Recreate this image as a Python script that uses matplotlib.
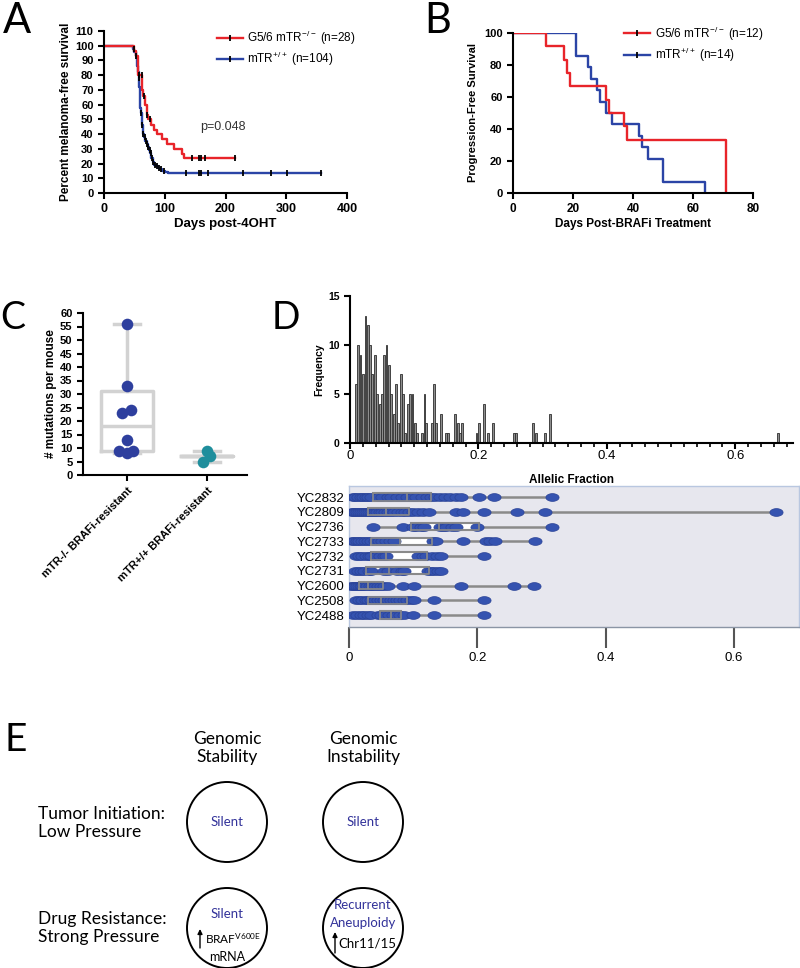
import numpy as np
import matplotlib.pyplot as plt
from matplotlib.path import Path
from matplotlib.patches import Circle
from matplotlib.lines import Line2D
from matplotlib.ticker import MultipleLocator

plt.rcParams['font.family'] = ['Liberation Sans', 'DejaVu Sans']
plt.rcParams['mathtext.default'] = 'regular'

RED = '#e8242a'
BLUE = '#2b44a6'

# ---- A: melanoma-free survival after 4OHT (Kaplan-Meier steps)
a_ko_t = [0, 50, 53, 56, 63, 65, 67, 70, 73, 77, 82, 88, 96, 104, 115, 128, 131]
a_ko_s = [100, 96.4, 93, 80, 70, 66, 60, 53, 50, 46.5, 43, 40, 36.5, 33, 30, 26.5, 23.5]
a_ko_end = 215
a_ko_cens = [58, 62, 66, 71, 75, 145, 157, 160, 167, 215]
a_wt_t = [0, 47, 50, 52, 54, 55, 56, 57, 58, 59, 60, 61, 62, 63, 64, 65, 66, 68, 70,
          72, 74, 76, 78, 80, 83, 86, 89, 92, 96, 100, 106]
a_wt_s = [100, 98, 96, 93, 90, 86, 82, 78, 72, 64, 58, 54, 50, 46, 43, 40, 38, 35, 33,
          31, 29, 27, 24, 21, 19, 18, 17, 16, 15, 14.4, 13.5]
a_wt_end = 357
a_wt_cens = [49, 53, 57, 61, 63, 65, 67, 69, 71, 73, 75, 77, 79, 81, 84, 87, 90, 94, 98,
             135, 157, 160, 172, 228, 275, 302, 357]

# ---- B: progression-free survival after BRAFi
b_ko_t = [0, 11, 17, 18, 19, 31, 32, 37, 38, 71]
b_ko_s = [100, 91.7, 83.3, 75, 66.7, 58.3, 50, 41.7, 33.3, 0]
b_wt_t = [0, 21, 25, 26, 28, 29, 31, 33, 42, 43, 45, 50, 64]
b_wt_s = [100, 85.7, 78.6, 71.4, 64.3, 57.1, 50, 42.9, 35.7, 28.6, 21.4, 7.1, 0]

# ---- C: mutations per mouse
c_groups = ['mTR-/- BRAFi-resistant', 'mTR+/+ BRAFi-resistant']
c_ko_vals = [56, 33, 24, 23, 13, 9, 9, 8]
c_wt_vals = [9, 7, 5]
c_q1 = [9, 7]
c_med = [18, 7]
c_q3 = [31, 7]
c_lo = [8, 5]
c_hi = [56, 9]

# ---- D: allelic fraction histogram
hist_af = [0.0092, 0.0128, 0.0164, 0.0200, 0.0241, 0.0277, 0.0313, 0.0349, 0.0390, 0.0421,
           0.0462, 0.0497, 0.0533, 0.0569, 0.0605, 0.0641, 0.0682, 0.0718, 0.0754, 0.0790,
           0.0826, 0.0862, 0.0903, 0.0938, 0.0974, 0.101, 0.105, 0.112, 0.116, 0.119,
           0.127, 0.131, 0.134, 0.142, 0.149, 0.153, 0.164, 0.168, 0.171, 0.175,
           0.197, 0.201, 0.208, 0.215, 0.223, 0.255, 0.259, 0.285, 0.289, 0.304, 0.311, 0.667]
hist_freq = [6, 10, 9, 7, 13, 12, 10, 7, 9, 5,
             4, 5, 9, 10, 8, 5, 3, 6, 2, 7,
             5, 1, 4, 5, 5, 2, 1, 1, 5, 2,
             2, 6, 2, 3, 1, 1, 3, 2, 1, 2,
             1, 2, 4, 1, 2, 1, 1, 2, 1, 1, 3, 1]

# ---- D: per-sample allelic fractions
samples = ['YC2832', 'YC2809', 'YC2736', 'YC2733', 'YC2732', 'YC2731', 'YC2600', 'YC2508', 'YC2488']
sample_af = [
    [0.006, 0.010, 0.014, 0.018, 0.022, 0.026, 0.030, 0.034, 0.045, 0.052, 0.060, 0.066, 0.075,
     0.082, 0.090, 0.098, 0.104, 0.114, 0.122, 0.128, 0.134, 0.142, 0.150, 0.158, 0.166, 0.175,
     0.203, 0.226, 0.316],
    [0.004, 0.007, 0.010, 0.013, 0.016, 0.019, 0.022, 0.025, 0.028, 0.031, 0.034, 0.037, 0.040,
     0.044, 0.048, 0.052, 0.056, 0.060, 0.065, 0.070, 0.076, 0.082, 0.088, 0.094, 0.100, 0.108,
     0.116, 0.124, 0.166, 0.178, 0.210, 0.262, 0.305, 0.665],
    [0.037, 0.084, 0.099, 0.105, 0.112, 0.117, 0.141, 0.146, 0.151, 0.161, 0.166, 0.200, 0.316],
    [0.004, 0.008, 0.012, 0.016, 0.020, 0.025, 0.030, 0.035, 0.040, 0.046, 0.052, 0.058, 0.064,
     0.070, 0.131, 0.136, 0.177, 0.213, 0.220, 0.228, 0.290],
    [0.011, 0.016, 0.021, 0.026, 0.031, 0.035, 0.042, 0.048, 0.054, 0.058, 0.108, 0.115, 0.120,
     0.130, 0.137, 0.144, 0.210],
    [0.009, 0.014, 0.019, 0.024, 0.031, 0.035, 0.054, 0.060, 0.075, 0.082, 0.086, 0.123, 0.128,
     0.133, 0.138, 0.143],
    [0.003, 0.006, 0.009, 0.012, 0.015, 0.018, 0.021, 0.024, 0.028, 0.032, 0.036, 0.040, 0.045,
     0.050, 0.055, 0.060, 0.084, 0.102, 0.174, 0.257, 0.288],
    [0.011, 0.016, 0.021, 0.026, 0.030, 0.035, 0.040, 0.045, 0.050, 0.055, 0.060, 0.065, 0.070,
     0.075, 0.080, 0.085, 0.090, 0.096, 0.102, 0.133, 0.210],
    [0.006, 0.012, 0.018, 0.024, 0.030, 0.035, 0.045, 0.050, 0.056, 0.062, 0.068, 0.074, 0.080,
     0.086, 0.099, 0.133, 0.210],
]
sample_q1 = [0.037, 0.029, 0.097, 0.035, 0.035, 0.027, 0.016, 0.030, 0.048]
sample_med = [0.090, 0.058, 0.140, 0.080, 0.058, 0.063, 0.030, 0.050, 0.065]
sample_q3 = [0.127, 0.094, 0.202, 0.130, 0.122, 0.125, 0.053, 0.091, 0.081]


def km(ax, t, s, end, color, cens=None):
    ax.step(list(t) + [end], list(s) + [s[-1]], where='post', color=color, lw=1.7)
    if cens:
        idx = np.searchsorted(t, cens, side='right') - 1
        ax.plot(cens, np.array(s)[idx], ls='none', marker='|', ms=4, mew=1.3, color='k', zorder=4)


def prism_axes(ax):
    for sp in ['top', 'right']:
        ax.spines[sp].set_visible(False)
    for sp in ['left', 'bottom']:
        ax.spines[sp].set_linewidth(1.5)
    ax.tick_params(direction='out', length=4, width=1.5)


def bold_ticks(ax, size_x, size_y):
    plt.setp(ax.get_xticklabels(), fontweight='bold', fontsize=size_x)
    plt.setp(ax.get_yticklabels(), fontweight='bold', fontsize=size_y)


fig = plt.figure(figsize=(8, 9.68), dpi=100)
W, H = 800., 968.


def box(l, t, r, b):
    return [l / W, 1 - b / H, (r - l) / W, (b - t) / H]


def km_handles():
    return [Line2D([], [], color=c, lw=1.7, marker='|', ms=4, mew=1.3, mec='k') for c in (RED, BLUE)]


# ---------------- A
ax = fig.add_axes(box(104, 31, 347, 193))
prism_axes(ax)
km(ax, a_wt_t, a_wt_s, a_wt_end, BLUE, a_wt_cens)
km(ax, a_ko_t, a_ko_s, a_ko_end, RED, a_ko_cens)
ax.set_xlim(0, 400)
ax.set_ylim(0, 110)
ax.set_xticks(range(0, 401, 100))
ax.set_yticks(range(0, 111, 10))
bold_ticks(ax, 9, 8)
ax.set_xlabel('Days post-4OHT', fontweight='bold', fontsize=9.5, labelpad=2)
ax.set_ylabel('Percent melanoma-free survival', fontweight='bold', fontsize=8.5, labelpad=2)
ax.text(159, 45, 'p=0.048', fontsize=9, color='#333333', va='center')
ax.legend(km_handles(), ['G5/6 mTR$^{-/-}$ (n=28)', 'mTR$^{+/+}$ (n=104)'],
          loc='upper left', bbox_to_anchor=(0.42, 1.08), frameon=False, fontsize=8.5,
          numpoints=1, handlelength=2.2, handletextpad=0.4, labelspacing=0.25)

# ---------------- B
ax = fig.add_axes(box(513, 33, 753, 193))
prism_axes(ax)
km(ax, b_wt_t, b_wt_s, b_wt_t[-1], BLUE)
km(ax, b_ko_t, b_ko_s, b_ko_t[-1], RED)
ax.set_xlim(0, 80)
ax.set_ylim(0, 100)
ax.set_xticks(range(0, 81, 20))
ax.set_yticks(range(0, 101, 20))
bold_ticks(ax, 8.5, 8)
ax.set_xlabel('Days Post-BRAFi Treatment', fontweight='bold', fontsize=8.5, labelpad=2)
ax.set_ylabel('Progression-Free Survival', fontweight='bold', fontsize=8, labelpad=4)
ax.legend(km_handles(), ['G5/6 mTR$^{-/-}$ (n=12)', 'mTR$^{+/+}$ (n=14)'],
          loc='upper left', bbox_to_anchor=(0.42, 1.12), frameon=False, fontsize=8.5,
          numpoints=1, handlelength=2.2, handletextpad=0.4, labelspacing=0.25)

# ---------------- C
ax = fig.add_axes(box(83, 313, 247, 475))
prism_axes(ax)
stats = [dict(med=c_med[i], q1=c_q1[i], q3=c_q3[i], whislo=c_lo[i], whishi=c_hi[i], fliers=[])
         for i in range(2)]
gp = dict(color='#d2d2d2', lw=2.5)
ax.bxp(stats, positions=[0, 1], widths=0.65, capwidths=0.33, showfliers=False,
       boxprops=gp, whiskerprops=gp, capprops=gp, medianprops=gp)
swarm_dx = [[0, 0, 0.05, -0.06, 0, -0.1, 0.08, 0], [0, 0.04, -0.05]]
ax.scatter(np.array(swarm_dx[0]), c_ko_vals, s=70, color='#2e3f9e', zorder=3, lw=0)
ax.scatter(1 + np.array(swarm_dx[1]), c_wt_vals, s=70, color='#1f8e9c', zorder=3, lw=0)
ax.set_xlim(-0.55, 1.5)
ax.set_ylim(0, 60)
ax.set_yticks(range(0, 61, 5))
ax.set_xticks([0, 1])
ax.set_xticklabels(c_groups, rotation=45, ha='right', rotation_mode='anchor')
bold_ticks(ax, 8, 8)
ax.set_ylabel('# mutations per mouse', fontweight='bold', fontsize=8.5, labelpad=2)

# ---------------- D histogram
ax = fig.add_axes(box(350, 296, 793, 443))
prism_axes(ax)
ax.bar(hist_af, hist_freq, width=0.003, color='#8e8e8e', edgecolor='#2e2e2e', linewidth=0.6)
ax.set_xlim(0, 0.69)
ax.set_ylim(0, 15)
ax.set_yticks([0, 5, 10, 15])
ax.set_xticks([0, 0.2, 0.4, 0.6])
ax.set_xticklabels(['0', '0.2', '0.4', '0.6'], fontsize=9.5)
ax.xaxis.set_minor_locator(MultipleLocator(0.02))
ax.tick_params(axis='x', which='minor', length=3, width=1.2)
ax.tick_params(axis='x', pad=1)
plt.setp(ax.get_yticklabels(), fontweight='bold', fontsize=7.5)
ax.set_ylabel('Frequency', fontweight='bold', fontsize=7.5, labelpad=3)
ax.set_xlabel('Allelic Fraction', fontweight='bold', fontsize=8.5, labelpad=9)

# ---------------- D per-sample boxes
ax = fig.add_axes(box(349, 486, 799, 627))
ax.set_facecolor('#e7e7ee')
for sp in ax.spines.values():
    sp.set_color('#b9c7e0')
    sp.set_linewidth(1)
ax.spines['bottom'].set_color('#8b95a5')
ys = np.arange(len(samples))[::-1]
stats = [dict(med=sample_med[i], q1=sample_q1[i], q3=sample_q3[i],
              whislo=min(sample_af[i]), whishi=max(sample_af[i]), fliers=[])
         for i in range(len(samples))]
ax.bxp(stats, positions=ys, widths=0.5, orientation='horizontal', patch_artist=True,
       showcaps=False, showfliers=False,
       boxprops=dict(facecolor='white', edgecolor='#8a8a8a', lw=1.5),
       whiskerprops=dict(color='#8a8a8a', lw=1.8), medianprops=dict(color='#8a8a8a', lw=1.5))
th = np.linspace(0, 2 * np.pi, 40)
capsule = Path(np.column_stack([1.7 * np.cos(th), np.sin(th)]))
for y, pts in zip(ys, sample_af):
    ax.plot(pts, [y] * len(pts), ls='none', marker=capsule, ms=9.5, mfc='#3553b0',
            mec='#2a4296', mew=0.5, zorder=4)
ax.bxp(stats, positions=ys, widths=0.5, orientation='horizontal', showcaps=False,
       showfliers=False, boxprops=dict(color='#8a8a8a', lw=1.2),
       whiskerprops=dict(lw=0), medianprops=dict(color='#8a8a8a', lw=1.2), zorder=5)
ax.set_xlim(0, 0.701)
ax.set_ylim(-0.81, 8.75)
ax.set_yticks(ys)
ax.set_yticklabels(samples, fontsize=9.5)
ax.tick_params(axis='y', length=0, pad=3)
ax.set_xticks([0, 0.2, 0.4, 0.6])
ax.set_xticklabels(['0', '0.2', '0.4', '0.6'], fontsize=9.5)
ax.tick_params(axis='x', length=15, width=1.5, color='#555555', pad=3)

# ---------------- E schematic (pixel coordinates)
ax = fig.add_axes(box(0, 700, 800, 968))
ax.set_xlim(0, 800)
ax.set_ylim(968, 700)
ax.axis('off')
ef = ['Lato', 'DejaVu Sans']
ax.text(227, 748, 'Genomic\nStability', ha='center', va='center', fontsize=12.5, family=ef,
        linespacing=1.15)
ax.text(363, 748, 'Genomic\nInstability', ha='center', va='center', fontsize=12.5, family=ef,
        linespacing=1.15)
ax.text(38, 823, 'Tumor Initiation:\nLow Pressure', ha='left', va='center', fontsize=12.5,
        family=ef, linespacing=1.15)
ax.text(38, 928, 'Drug Resistance:\nStrong Pressure', ha='left', va='center', fontsize=12.5,
        family=ef, linespacing=1.15)
for cx, cy in [(227, 822), (363, 822), (227, 928), (363, 928)]:
    ax.add_patch(Circle((cx, cy), 40, fill=False, lw=1.4, ec='black'))
PURPLE = '#33339a'
ax.text(227, 822, 'Silent', ha='center', va='center', fontsize=9.5, color=PURPLE, family=ef)
ax.text(363, 822, 'Silent', ha='center', va='center', fontsize=9.5, color=PURPLE, family=ef)
ax.text(227, 914, 'Silent', ha='center', va='center', fontsize=9.5, color=PURPLE, family=ef)
ax.text(205, 939, 'BRAF$^{V600E}$', ha='left', va='center', fontsize=8.5, family=ef)
ax.text(227, 957, 'mRNA', ha='center', va='center', fontsize=9, family=ef)
ax.text(363, 905, 'Recurrent', ha='center', va='center', fontsize=9.5, color=PURPLE, family=ef)
ax.text(363, 923, 'Aneuploidy', ha='center', va='center', fontsize=9.5, color=PURPLE, family=ef)
ax.text(338, 943, 'Chr11/15', ha='left', va='center', fontsize=9.5, family=ef)
for x0, y0, y1 in [(200, 948, 929), (335, 953, 932)]:
    ax.annotate('', xy=(x0, y1), xytext=(x0, y0),
                arrowprops=dict(arrowstyle='-|>', lw=1, color='black', mutation_scale=7,
                                shrinkA=0, shrinkB=0))

# panel letters
for letter, x, y, size in [('A', 3, 2, 30), ('B', 424, 2, 30), ('C', 0, 300, 27),
                           ('D', 272, 300, 27), ('E', 5, 722, 28)]:
    fig.text(x / W, 1 - y / H, letter, fontsize=size, family=ef, va='top', ha='left')

fig.savefig('out.png', dpi=100)
